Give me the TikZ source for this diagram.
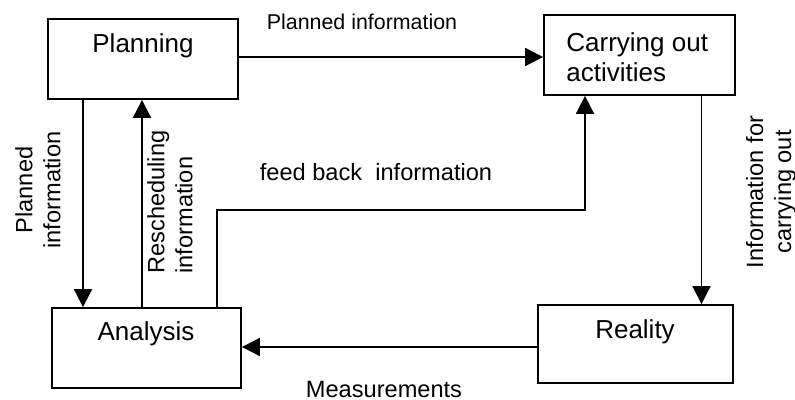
\documentclass[tikz,border=0pt]{standalone}
\usepackage{fontspec}
\setmainfont{Liberation Sans}
\usetikzlibrary{arrows.meta}
\begin{document}
\begin{tikzpicture}[x=0.5pt,y=-0.5pt,
  box/.style={draw,line width=0.9pt,inner sep=0pt},
  boxtext/.style={inner sep=0pt,font=\fontsize{13pt}{15pt}\selectfont},
  lbl/.style={inner sep=0pt,font=\fontsize{11.8pt}{14pt}\selectfont},
  arr/.style={line width=0.9pt,-{Triangle[length=9pt,width=9pt]}},
  line/.style={line width=0.9pt}]
\useasboundingbox (0,0) rectangle (795,400);
% boxes
\node[box,minimum width=95pt,minimum height=40pt] (plan) at (143,59) {};
\node[box,minimum width=95.5pt,minimum height=40pt] (carry) at (639.5,55) {};
\node[box,minimum width=94.5pt,minimum height=40pt] (anal) at (146.5,348) {};
\node[box,minimum width=97.5pt,minimum height=39pt] (real) at (635.5,344) {};
% box texts
\node[boxtext] (tplan) at (143,46) {Planning};
\node[boxtext,anchor=west,align=left] (tcarry) at (566,57) {Carrying out\\activities};
\node[boxtext] (tanal) at (146,334) {Analysis};
\node[boxtext] (treal) at (635,332) {Reality};
% helper coordinates
\coordinate (y57) at (0,57);
\coordinate (y347) at (0,347);
\coordinate (x83) at (83,0);
\coordinate (x142) at (142,0);
\coordinate (x701) at (701.5,0);
\coordinate (fbA) at (217,210);
\coordinate (fbB) at (585,210);
% connectors
\draw[arr] (plan.east |- y57) -- (carry.west |- y57);
\draw[arr] (plan.south -| x83) -- (anal.north -| x83);
\draw[arr] (anal.north -| x142) -- (plan.south -| x142);
\draw[arr] (anal.north -| fbA) -- (fbA) -- (fbB) -- (carry.south -| fbB);
\draw[arr] (carry.south -| x701) -- (real.north -| x701);
\draw[arr] (real.west |- y347) -- (anal.east |- y347);
% labels
\node[inner sep=0pt,font=\fontsize{10.7pt}{13pt}\selectfont] (lpi) at (362,22) {Planned information};
\node[lbl] (lfb) at (376,172) {feed back\ \ information};
\node[lbl] (lmeas) at (384,389) {Measurements};
\node[lbl,rotate=90,align=center] (lpi2) at (38,190) {Planned\\information};
\node[lbl,rotate=90,align=left] (lres) at (170,202) {Rescheduling\\information};
\node[lbl,rotate=90,align=center] (lcar) at (771,192) {Information for\\carrying out};
\end{tikzpicture}
\end{document}
